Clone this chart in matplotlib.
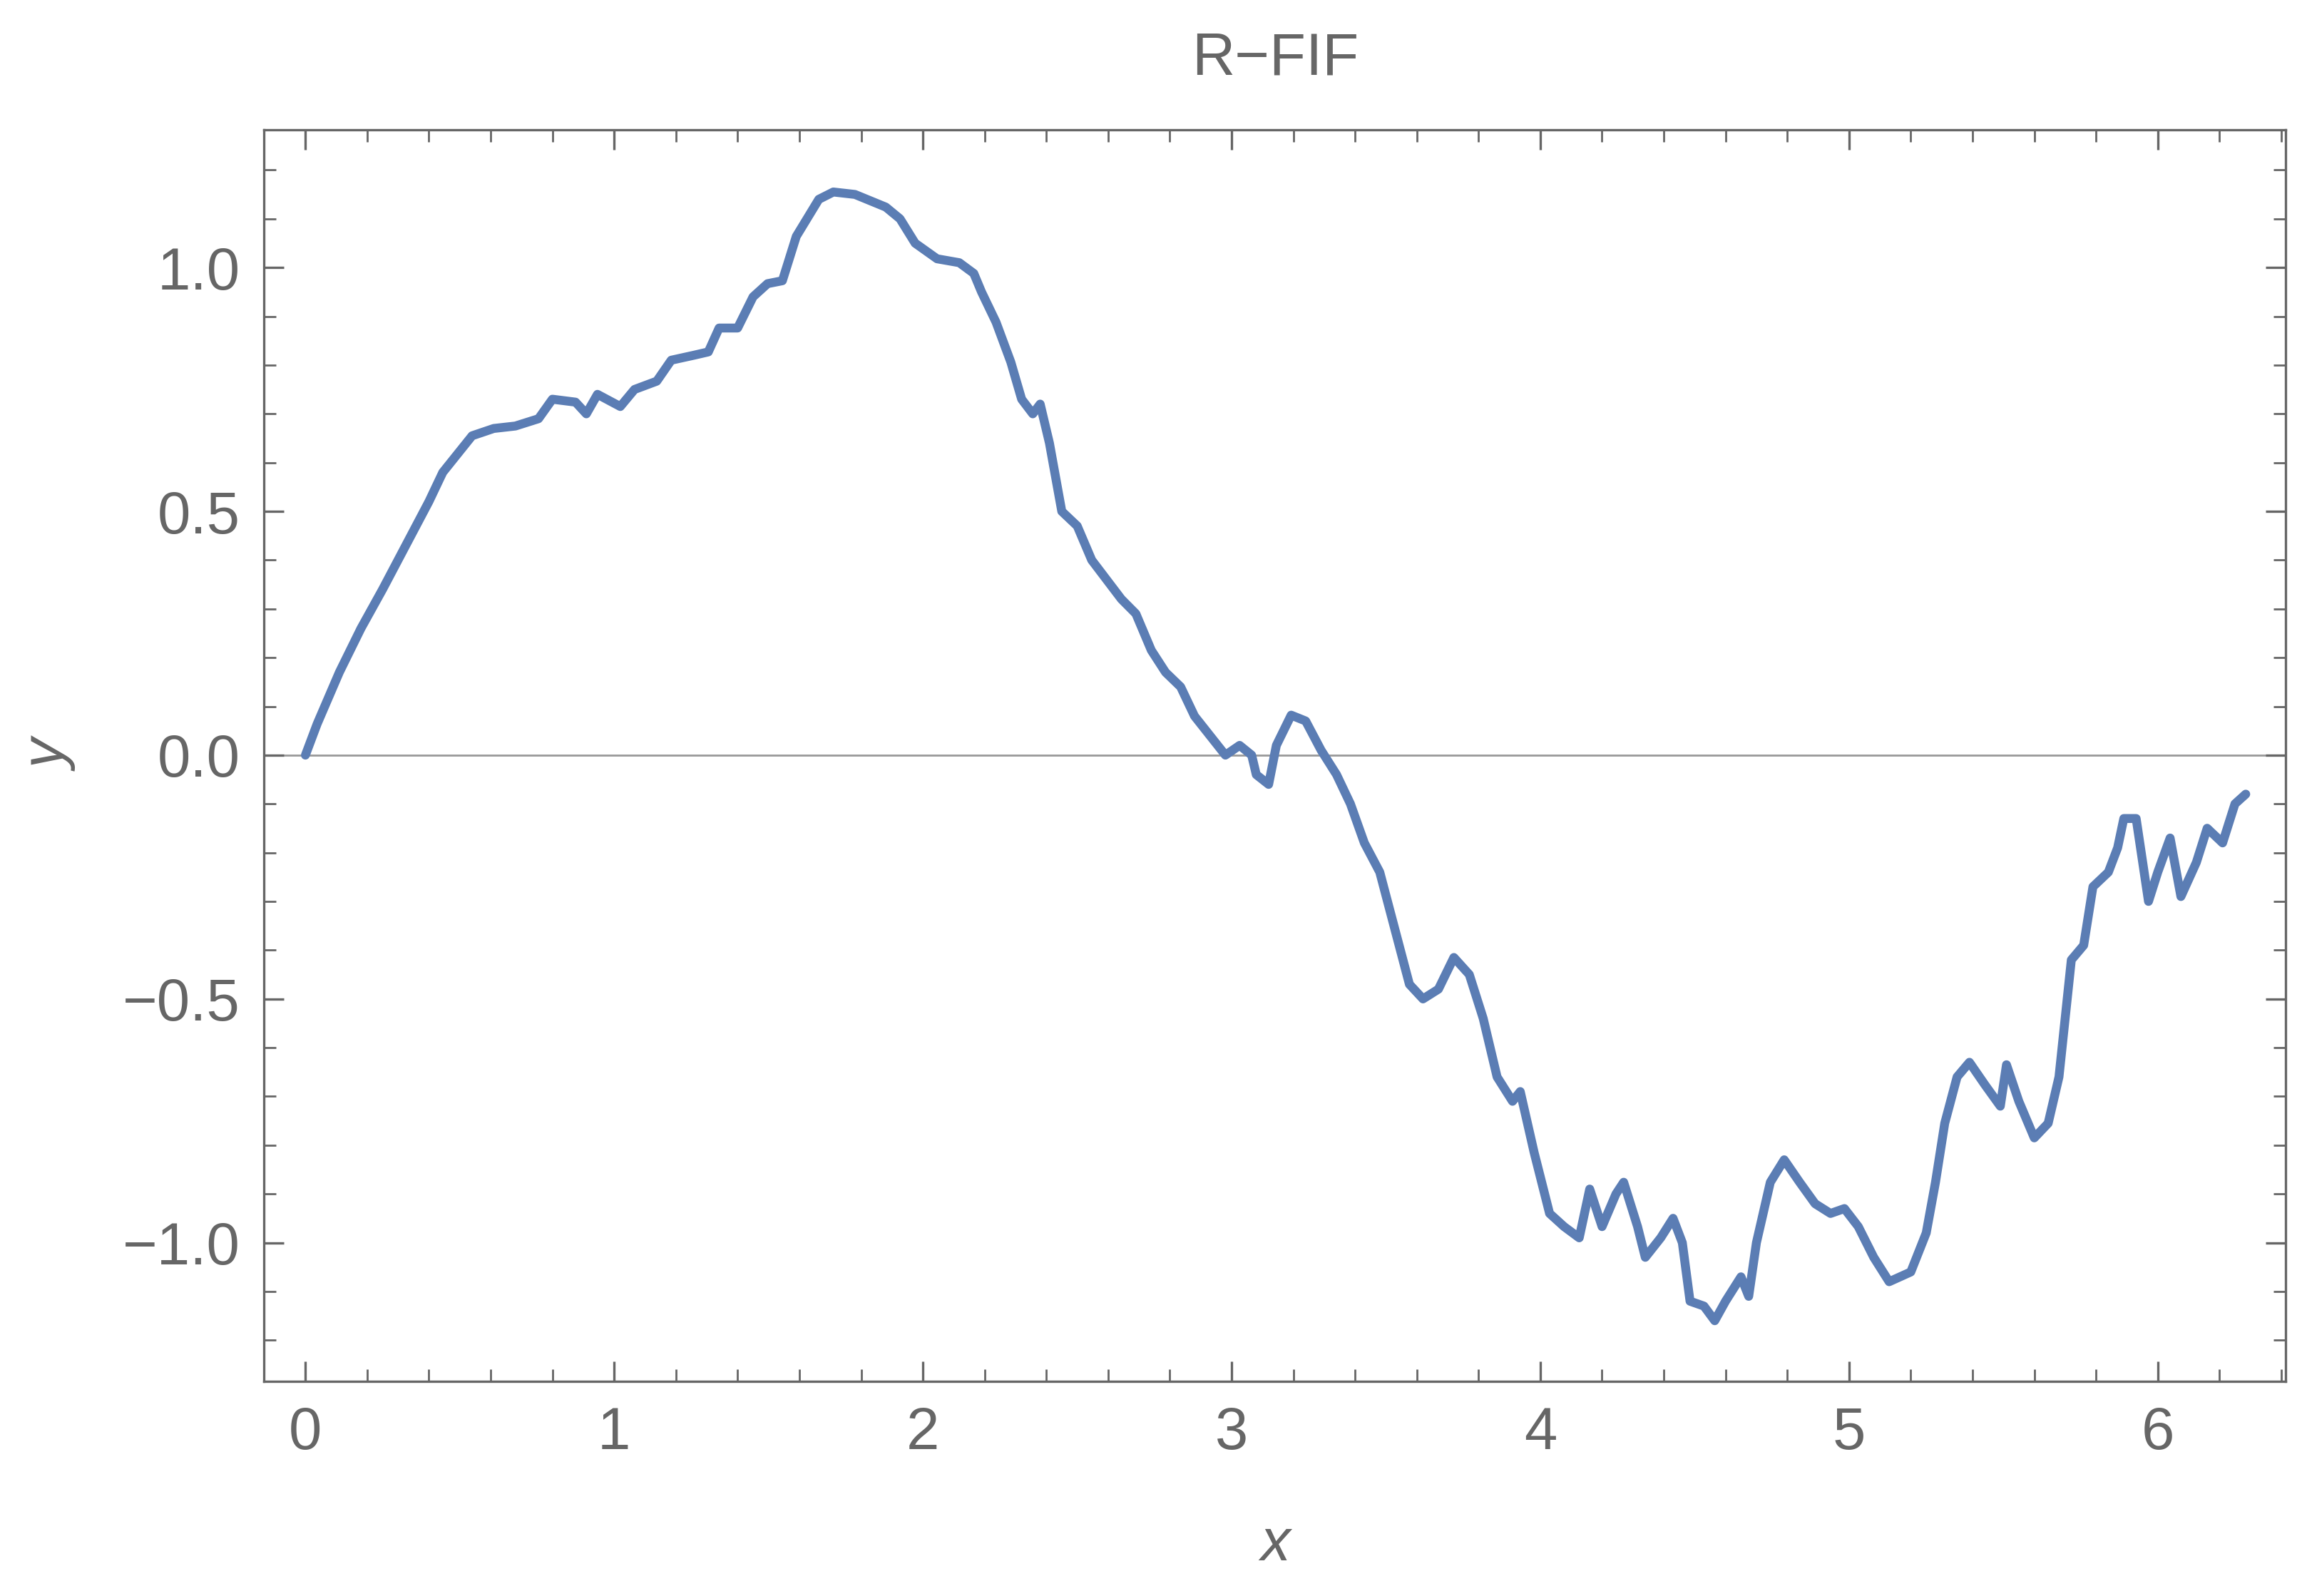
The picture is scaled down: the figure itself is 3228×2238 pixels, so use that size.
import matplotlib
matplotlib.use("Agg")
import matplotlib.pyplot as plt
from matplotlib.ticker import MultipleLocator

xs = [0,0.038,0.11,0.18,0.25,0.325,0.40,0.445,0.54,0.61,0.68,0.755,0.80,0.875,0.91,0.946,1.02,1.066,1.138,1.185,1.257,1.305,1.34,1.40,1.45,1.497,1.545,1.59,1.663,1.71,1.78,1.88,1.926,1.975,2.046,2.118,2.165,2.19,2.237,2.285,2.32,2.356,2.38,2.41,2.45,2.50,2.547,2.595,2.643,2.69,2.74,2.786,2.835,2.88,2.93,2.98,3.026,3.065,3.08,3.12,3.145,3.193,3.24,3.29,3.34,3.385,3.43,3.48,3.53,3.576,3.62,3.67,3.72,3.77,3.815,3.86,3.91,3.935,3.98,4.03,4.077,4.126,4.16,4.20,4.245,4.27,4.315,4.34,4.39,4.43,4.46,4.485,4.53,4.565,4.60,4.65,4.675,4.70,4.745,4.79,4.84,4.89,4.94,4.985,5.03,5.08,5.13,5.20,5.25,5.28,5.31,5.35,5.39,5.44,5.49,5.51,5.55,5.60,5.645,5.68,5.72,5.76,5.79,5.84,5.87,5.89,5.93,5.97,6.0,6.04,6.075,6.125,6.16,6.21,6.25,6.285]
ys = [0,0.064,0.17,0.26,0.34,0.43,0.52,0.58,0.655,0.67,0.675,0.69,0.73,0.724,0.70,0.74,0.715,0.75,0.767,0.81,0.82,0.827,0.876,0.876,0.94,0.967,0.973,1.064,1.14,1.155,1.15,1.124,1.10,1.05,1.018,1.01,0.988,0.95,0.888,0.806,0.73,0.70,0.72,0.64,0.50,0.47,0.40,0.36,0.32,0.29,0.215,0.17,0.14,0.08,0.04,0.0,0.02,0.0,-0.04,-0.06,0.02,0.082,0.07,0.01,-0.04,-0.10,-0.18,-0.24,-0.36,-0.47,-0.50,-0.48,-0.415,-0.45,-0.54,-0.66,-0.71,-0.69,-0.815,-0.94,-0.967,-0.99,-0.89,-0.967,-0.90,-0.876,-0.967,-1.03,-0.99,-0.95,-1.0,-1.12,-1.13,-1.16,-1.12,-1.07,-1.11,-1.0,-0.876,-0.83,-0.876,-0.92,-0.94,-0.93,-0.967,-1.03,-1.08,-1.06,-0.98,-0.876,-0.755,-0.66,-0.63,-0.676,-0.72,-0.635,-0.71,-0.785,-0.755,-0.66,-0.42,-0.39,-0.27,-0.24,-0.19,-0.13,-0.13,-0.30,-0.24,-0.17,-0.29,-0.22,-0.15,-0.18,-0.10,-0.08]

plt.rcParams['font.family'] = ['Liberation Sans', 'DejaVu Sans']
gray = "#666666"
fig = plt.figure(figsize=(16.14, 11.19), dpi=200)
ax = fig.add_axes([0.1147, 0.1343, 0.8783, 0.7842])
ax.axhline(0, color="#999999", lw=1.0, zorder=1)
ax.plot(xs, ys, color="#5B7DB4", lw=4.5, zorder=2, solid_joinstyle="round", solid_capstyle="round")
ax.set_xlim(-0.134, 6.415)
ax.set_ylim(-1.285, 1.282)
ax.xaxis.set_major_locator(MultipleLocator(1))
ax.xaxis.set_minor_locator(MultipleLocator(0.2))
ax.yaxis.set_minor_locator(MultipleLocator(0.1))
ax.set_yticks([-1.0, -0.5, 0.0, 0.5, 1.0])
ax.set_yticklabels(["\u22121.0", "\u22120.5", "0.0", "0.5", "1.0"])
ax.tick_params(which="both", direction="in", top=True, right=True, color=gray, labelcolor=gray, labelsize=30)
ax.tick_params(which="major", length=10, width=1.2, pad=12)
ax.tick_params(which="minor", length=6, width=1.0)
for s in ax.spines.values():
    s.set_color(gray); s.set_linewidth(1.2)
ax.set_xlabel("x", fontsize=30, style="italic", color=gray, labelpad=28)
ax.set_ylabel("y", fontsize=30, style="italic", color=gray, labelpad=22)
ax.set_title("R\u2212FIF", fontsize=30, color=gray, pad=28)
fig.savefig("out.png", dpi=200)
